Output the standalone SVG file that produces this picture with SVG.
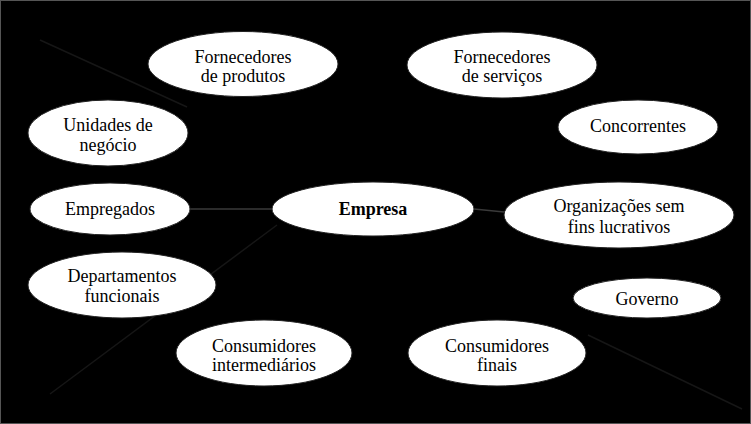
<svg xmlns="http://www.w3.org/2000/svg" width="751" height="424" viewBox="0 0 751 424">
<style>
.n{fill:#fff;stroke:#222;stroke-width:1}
.t{font-family:"Liberation Serif","Times New Roman",serif;font-size:18px;fill:#000;text-anchor:middle}
.b{font-weight:bold}
.c{stroke:#3a3a3a;stroke-width:1.5;fill:none}
.f{stroke:#161616;stroke-width:1.5;fill:none}
</style>
<rect x="0" y="0" width="751" height="424" fill="#000"/>
<rect x="0.5" y="0.5" width="750" height="423" fill="none" stroke="#555" stroke-width="1"/>
<g id="connectors">
<line class="f" x1="40" y1="40" x2="187" y2="107"/>
<line class="f" x1="50" y1="394" x2="277" y2="225"/>
<line class="f" x1="588" y1="335" x2="742" y2="409"/>
<line class="c" x1="190" y1="209" x2="272" y2="209"/>
<line class="c" x1="474" y1="209" x2="504" y2="212"/>
</g>
<g id="fornecedores-produtos"><ellipse class="n" cx="243" cy="64" rx="95" ry="32.5"/><text class="t" x="243" y="63">Fornecedores</text><text class="t" x="243" y="82">de produtos</text></g>
<g id="fornecedores-servicos"><ellipse class="n" cx="502" cy="65" rx="95" ry="33"/><text class="t" x="502" y="63">Fornecedores</text><text class="t" x="502" y="82">de serviços</text></g>
<g id="unidades"><ellipse class="n" cx="108" cy="133" rx="80" ry="33"/><text class="t" x="108" y="131">Unidades de</text><text class="t" x="108" y="151">negócio</text></g>
<g id="concorrentes"><ellipse class="n" cx="638" cy="127" rx="80" ry="27"/><text class="t" x="638" y="132">Concorrentes</text></g>
<g id="empregados"><ellipse class="n" cx="110" cy="209" rx="80" ry="26"/><text class="t" x="110" y="215">Empregados</text></g>
<g id="empresa"><ellipse class="n" cx="373" cy="209" rx="101" ry="27"/><text class="t b" x="373" y="215">Empresa</text></g>
<g id="organizacoes"><ellipse class="n" cx="619" cy="215" rx="115" ry="33"/><text class="t" x="619" y="212">Organizações sem</text><text class="t" x="619" y="233">fins lucrativos</text></g>
<g id="departamentos"><ellipse class="n" cx="122" cy="285" rx="94" ry="33"/><text class="t" x="122" y="282">Departamentos</text><text class="t" x="122" y="302">funcionais</text></g>
<g id="governo"><ellipse class="n" cx="647" cy="298" rx="74" ry="20"/><text class="t" x="647" y="305">Governo</text></g>
<g id="consumidores-intermediarios"><ellipse class="n" cx="264" cy="353" rx="88" ry="33"/><text class="t" x="264" y="352">Consumidores</text><text class="t" x="264" y="371">intermediários</text></g>
<g id="consumidores-finais"><ellipse class="n" cx="497" cy="353" rx="89" ry="33"/><text class="t" x="497" y="352">Consumidores</text><text class="t" x="497" y="371">finais</text></g>
</svg>
